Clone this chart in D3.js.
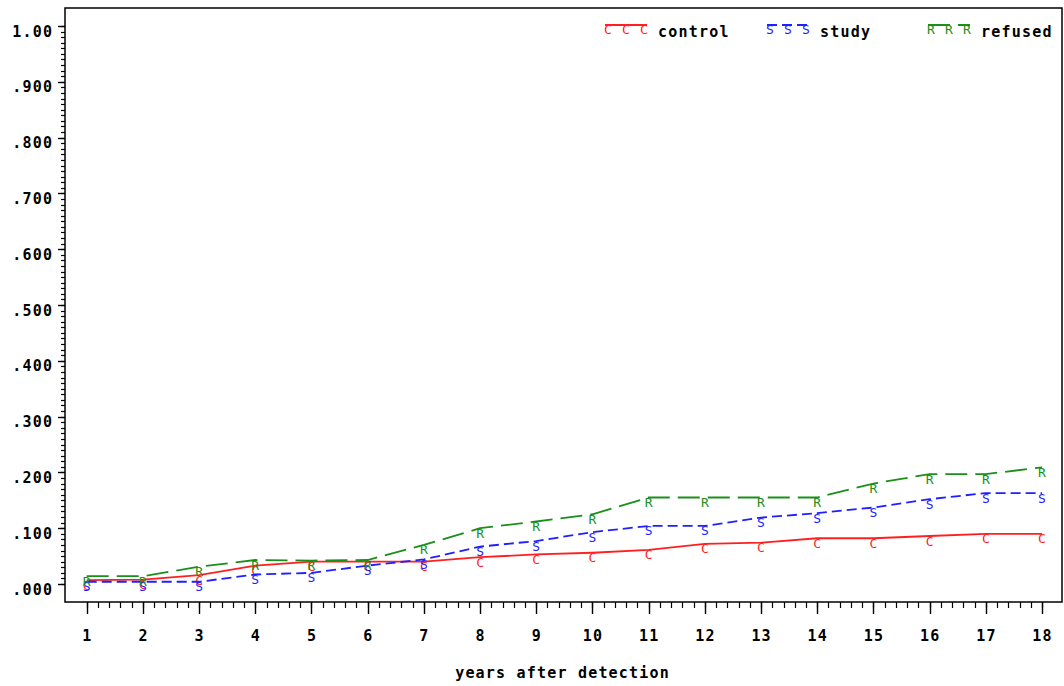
<!DOCTYPE html>
<html>
<head>
<meta charset="utf-8">
<script src="https://cdn.jsdelivr.net/npm/d3@7"></script>
<style>
  html, body { margin: 0; padding: 0; background: #fff; }
  svg { display: block; }
  text { font-family: "DejaVu Sans Mono", "Liberation Mono", monospace; }
</style>
</head>
<body>
<svg id="chart" width="1064" height="686"></svg>
<script>
// Cumulative proportion by years after detection, per group
const years = [1, 2, 3, 4, 5, 6, 7, 8, 9, 10, 11, 12, 13, 14, 15, 16, 17, 18];
const control = [0.007, 0.008, 0.016, 0.033, 0.040, 0.040, 0.040, 0.048, 0.053, 0.056, 0.061, 0.072, 0.074, 0.082, 0.082, 0.086, 0.090, 0.090];
const study   = [0.004, 0.004, 0.004, 0.017, 0.020, 0.033, 0.044, 0.067, 0.077, 0.093, 0.104, 0.104, 0.119, 0.127, 0.137, 0.152, 0.163, 0.163];
const refused = [0.014, 0.014, 0.031, 0.043, 0.042, 0.043, 0.070, 0.100, 0.112, 0.125, 0.155, 0.155, 0.155, 0.155, 0.180, 0.197, 0.197, 0.209];
const yTicks = [0, 0.1, 0.2, 0.3, 0.4, 0.5, 0.6, 0.7, 0.8, 0.9, 1.0];
const yTickLabels = [".000", ".100", ".200", ".300", ".400", ".500", ".600", ".700", ".800", ".900", "1.00"];
const xLabel = "years after detection";

const series = [
  { name: "control", symbol: "C", values: control, color: "#ff1f1f", dash: null,   legendX: 605 },
  { name: "study",   symbol: "S", values: study,   color: "#1f1fff", dash: "10,5", legendX: 767 },
  { name: "refused", symbol: "R", values: refused, color: "#1a8f1a", dash: "22,8", legendX: 928 }
];

const svg = d3.select("#chart");
const frame = { left: 65, right: 1062, top: 8, bottom: 602 };

const x = d3.scaleLinear().domain([1, 18]).range([86.7, 1042]);
const y = d3.scaleLinear().domain([0, 1]).range([584, 26]);

const LS = 1.2; // letter spacing used by all labels
const fontSize = 15;

// plot frame
svg.append("rect")
  .attr("x", frame.left).attr("y", frame.top)
  .attr("width", frame.right - frame.left).attr("height", frame.bottom - frame.top)
  .attr("fill", "none").attr("stroke", "#000").attr("stroke-width", 1.5);

// y axis: major ticks every 0.1, minor every 0.01
const yAxis = svg.append("g");
const yMinor = d3.range(0, 101).map(i => i / 100);
yAxis.selectAll("line.minor").data(yMinor).join("line")
  .attr("x1", 61).attr("x2", frame.left)
  .attr("y1", d => Math.round(y(d)) + 0.5).attr("y2", d => Math.round(y(d)) + 0.5)
  .attr("stroke", "#000").attr("stroke-width", 1.2);
yAxis.selectAll("line.major").data(yTicks).join("line")
  .attr("x1", 58).attr("x2", frame.left)
  .attr("y1", d => Math.round(y(d)) + 0.5).attr("y2", d => Math.round(y(d)) + 0.5)
  .attr("stroke", "#000").attr("stroke-width", 1.4);
yAxis.selectAll("text").data(yTicks).join("text")
  .attr("x", 52 + LS).attr("y", d => y(d) + 10.5)
  .attr("text-anchor", "end")
  .attr("font-size", fontSize).attr("font-weight", "bold")
  .attr("letter-spacing", LS)
  .text((d, i) => yTickLabels[i]);

// x axis: major ticks at each year, four minor ticks between
const xAxis = svg.append("g");
const xMinor = d3.range(0, 86).map(i => 1 + i / 5);
xAxis.selectAll("line.minor").data(xMinor).join("line")
  .attr("x1", d => Math.round(x(d)) + 0.5).attr("x2", d => Math.round(x(d)) + 0.5)
  .attr("y1", frame.bottom).attr("y2", 608)
  .attr("stroke", "#000").attr("stroke-width", 1.2);
xAxis.selectAll("line.major").data(years).join("line")
  .attr("x1", d => Math.round(x(d)) + 0.5).attr("x2", d => Math.round(x(d)) + 0.5)
  .attr("y1", frame.bottom).attr("y2", 614)
  .attr("stroke", "#000").attr("stroke-width", 1.4);
xAxis.selectAll("text").data(years).join("text")
  .attr("x", d => x(d) + LS / 2).attr("y", 641)
  .attr("text-anchor", "middle")
  .attr("font-size", fontSize).attr("font-weight", "bold")
  .attr("letter-spacing", LS)
  .text(d => d);

svg.append("text")
  .attr("x", 562 + LS / 2).attr("y", 678)
  .attr("text-anchor", "middle")
  .attr("font-size", fontSize).attr("font-weight", "bold")
  .attr("letter-spacing", LS)
  .text(xLabel);

// series lines and letter markers
const line = d3.line().x((d, i) => x(years[i])).y(d => y(d));

series.forEach(s => {
  const g = svg.append("g");
  g.append("path")
    .datum(s.values)
    .attr("d", line)
    .attr("fill", "none")
    .attr("stroke", s.color)
    .attr("stroke-width", 1.8)
    .attr("stroke-dasharray", s.dash);
  g.selectAll("text").data(s.values).join("text")
    .attr("x", (d, i) => x(years[i]))
    .attr("y", d => y(d) + 9.5)
    .attr("text-anchor", "middle")
    .attr("font-size", 13)
    .attr("fill", s.color)
    .text(s.symbol);

  // legend entry
  const lg = svg.append("g");
  const lx = s.legendX;
  lg.append("line")
    .attr("x1", lx).attr("x2", lx + 42)
    .attr("y1", 25).attr("y2", 25)
    .attr("stroke", s.color).attr("stroke-width", 1.8)
    .attr("stroke-dasharray", s.dash);
  lg.selectAll("text.sym").data([3, 21, 39]).join("text")
    .attr("class", "sym")
    .attr("x", d => lx + d).attr("y", 34)
    .attr("text-anchor", "middle")
    .attr("font-size", 13)
    .attr("fill", s.color)
    .text(s.symbol);
  lg.append("text")
    .attr("x", lx + 53).attr("y", 37)
    .attr("font-size", fontSize).attr("font-weight", "bold")
    .attr("letter-spacing", LS)
    .attr("fill", "#000")
    .text(s.name);
});
</script>
</body>
</html>
